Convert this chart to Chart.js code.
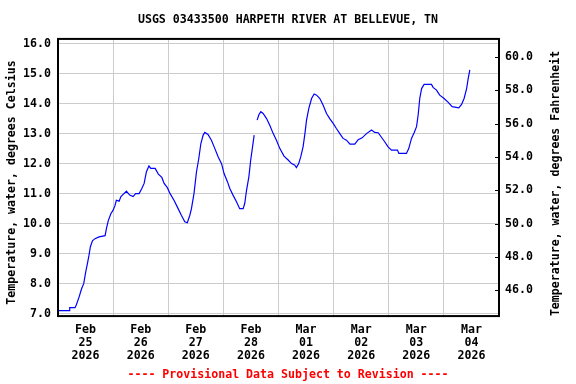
<!DOCTYPE html>
<html lang="en">
<head>
    <meta charset="UTF-8">
    <title>USGS 03433500 Harpeth River at Bellevue, TN</title>
    <script src="https://cdn.jsdelivr.net/npm/chart.js@4.4.1/dist/chart.umd.min.js"></script>
    <style>
        * {
            margin: 0;
            padding: 0;
            box-sizing: border-box;
        }

        body {
            background: #ffffff;
        }

        .chart-container {
            position: relative;
            width: 576px;
            height: 384px;
        }
    </style>
</head>
<body>
    <div class="chart-container">
        <canvas id="tempChart"></canvas>
    </div>

    <script>
        // hours since Feb 25 2026 00:00, and water temperature (deg C)
        const hours = [
            0, 4.8, 5.1, 7.4, 8.0, 9.2, 10.3, 11.2, 12.1, 12.8, 13.5, 14.1, 15.0, 16.1, 17.9,
            20.5, 21.1, 21.9, 23.0, 24.0, 24.8, 25.4, 26.6, 27.4, 28.7, 29.8, 31.2, 32.7, 33.8,
            35.3, 36.5, 37.5, 38.5, 39.6, 40.4, 42.3, 43.7, 45.2, 46.2, 47.6, 48.8, 50.5, 52.3,
            53.7, 55.2, 56.3, 57.4, 58.1, 59.2, 60.3, 61.3, 62.2, 63.2, 63.9, 65.3, 66.8, 68.3,
            69.7, 71.2, 72.3, 73.8, 74.8, 76.2, 77.7, 79.1, 80.6, 81.3, 82.1, 83.1, 83.9, 84.7,
            85.4, 86.0, 86.7, 87.4, 88.3, 89.3, 90.8, 92.2, 93.7, 95.1, 96.6, 98.4, 100.2, 101.7,
            103.1, 103.8, 104.8, 105.7, 106.7, 107.5, 108.2, 109.2, 110.4, 111.5, 112.6, 114.0,
            115.4, 116.9, 118.3, 119.8, 121.2, 122.7, 124.1, 125.6, 127.1, 129.2, 130.7, 132.4,
            134.3, 136.5, 137.9, 139.4, 140.9, 142.3, 143.7, 145.2, 147.8, 148.4, 151.7, 152.7,
            153.9, 155.1, 156.1, 156.8, 157.5, 158.3, 159.4, 162.6, 163.3, 164.8, 166.2, 168.1,
            169.9, 171.6, 174.5, 175.7, 176.8, 177.9, 178.6, 179.3
        ];
        const tempC = [
            7.1, 7.1, 7.2, 7.2, 7.3, 7.56, 7.84, 8.0, 8.4, 8.67, 8.95, 9.23, 9.43, 9.5, 9.56,
            9.6, 9.84, 10.1, 10.33, 10.45, 10.6, 10.78, 10.75, 10.9, 11.0, 11.08, 10.95, 10.9, 11.0,
            11.0, 11.17, 11.34, 11.73, 11.92, 11.84, 11.84, 11.65, 11.54, 11.34, 11.2, 11.0, 10.78, 10.5,
            10.28, 10.06, 10.03, 10.28, 10.5, 11.0, 11.73, 12.17, 12.67, 12.95, 13.04, 12.97, 12.78, 12.5,
            12.23, 12.0, 11.67, 11.39, 11.17, 10.95, 10.73, 10.5, 10.5, 10.67, 11.12, 11.56, 12.12, 12.56,
            12.95, null, 13.45, 13.62, 13.73, 13.67, 13.5, 13.28, 13.0, 12.78, 12.5, 12.25, 12.12, 12.0,
            11.95, 11.87, 12.0, 12.23, 12.56, 13.0, 13.45, 13.84, 14.17, 14.32, 14.28, 14.17,
            13.95, 13.67, 13.5, 13.34, 13.17, 13.0, 12.84, 12.78, 12.65, 12.65, 12.8, 12.86,
            13.0, 13.12, 13.04, 13.03, 12.87, 12.72, 12.56, 12.45, 12.45, 12.34, 12.34, 12.5,
            12.84, 13.04, 13.23, 13.62, 14.17, 14.5, 14.64, 14.64, 14.54, 14.45, 14.28, 14.17,
            14.04, 13.9, 13.86, 13.97, 14.17, 14.5, 14.84, 15.12
        ];

        // x axis day labels (placed at noon of each day)
        const monthLabels = ['Feb', 'Feb', 'Feb', 'Feb', 'Mar', 'Mar', 'Mar', 'Mar'];
        const dayLabels = ['25', '26', '27', '28', '01', '02', '03', '04'];
        const yearLabel = '2026';

        // axis ticks
        const celsiusTicks = [7, 8, 9, 10, 11, 12, 13, 14, 15, 16];
        const fahrenheitTicks = [46, 48, 50, 52, 54, 56, 58, 60];

        const cMin = 6.92;
        const cMax = 16.155;
        const toF = c => c * 9 / 5 + 32;

        const FONT = 'DejaVu Sans Mono';
        const labelFont = { family: FONT, size: 11.6, weight: 'bold' };

        // frame, inward tick marks and the two rotated axis titles
        const framePlugin = {
            id: 'frame',
            afterDraw(chart) {
                const { ctx, chartArea: a } = chart;
                const y2 = chart.scales.y2;
                ctx.save();
                ctx.strokeStyle = '#000000';
                ctx.lineWidth = 1;
                fahrenheitTicks.forEach(v => {
                    const py = Math.round(y2.getPixelForValue(v)) + 0.5;
                    ctx.beginPath();
                    ctx.moveTo(a.right - 4, py);
                    ctx.lineTo(a.right, py);
                    ctx.stroke();
                });
                ctx.lineWidth = 2;
                ctx.strokeRect(a.left, a.top, a.right - a.left, a.bottom - a.top);

                ctx.font = 'bold 11.6px "' + FONT + '"';
                ctx.fillStyle = '#000000';
                ctx.textAlign = 'center';
                ctx.textBaseline = 'middle';
                const axisTitle = (text, x, y) => {
                    ctx.save();
                    ctx.translate(x, y);
                    ctx.rotate(-Math.PI / 2);
                    ctx.fillText(text, 0, 0);
                    ctx.restore();
                };
                axisTitle('Temperature, water, degrees Celsius', 12, 182.5);
                axisTitle('Temperature, water, degrees Fahrenheit', 556, 183.5);
                ctx.restore();
            }
        };

        const ctx = document.getElementById('tempChart').getContext('2d');
        new Chart(ctx, {
            type: 'line',
            data: {
                datasets: [{
                    label: 'Temperature',
                    data: hours.map((h, i) => ({ x: h, y: tempC[i] })),
                    borderColor: '#0000ff',
                    borderWidth: 1.2,
                    pointRadius: 0,
                    tension: 0,
                    spanGaps: false,
                    yAxisID: 'y'
                }]
            },
            options: {
                responsive: true,
                maintainAspectRatio: false,
                animation: false,
                layout: { padding: 0 },
                plugins: {
                    legend: { display: false },
                    tooltip: { enabled: false },
                    title: {
                        display: true,
                        text: 'USGS 03433500 HARPETH RIVER AT BELLEVUE, TN',
                        color: '#000000',
                        font: labelFont,
                        padding: { top: 13, bottom: 12 }
                    },
                    subtitle: {
                        display: true,
                        position: 'bottom',
                        text: '---- Provisional Data Subject to Revision ----',
                        color: '#ff0000',
                        font: labelFont,
                        padding: { top: 0, bottom: 2 }
                    }
                },
                scales: {
                    x: {
                        type: 'linear',
                        min: 0,
                        max: 192,
                        afterFit: axis => { axis.height = 52; },
                        border: { display: false },
                        grid: {
                            drawTicks: false,
                            color: c => (c.tick && c.tick.value % 24 === 0) ? '#cccccc' : 'rgba(0,0,0,0)'
                        },
                        ticks: {
                            stepSize: 12,
                            autoSkip: false,
                            maxRotation: 0,
                            padding: 7,
                            color: '#000000',
                            font: { family: FONT, size: 11.6, weight: 'bold', lineHeight: 1.12 },
                            callback: v => {
                                if (v % 24 !== 12) return '';
                                const i = (v - 12) / 24;
                                return [monthLabels[i], dayLabels[i], yearLabel];
                            }
                        }
                    },
                    y: {
                        position: 'left',
                        min: cMin,
                        max: cMax,
                        afterFit: axis => { axis.width = 58; },
                        afterBuildTicks: axis => { axis.ticks = celsiusTicks.map(v => ({ value: v })); },
                        border: { display: false },
                        grid: { drawTicks: false, color: '#cccccc' },
                        ticks: {
                            padding: 7,
                            color: '#000000',
                            font: labelFont,
                            callback: v => v.toFixed(1)
                        }
                    },
                    y2: {
                        position: 'right',
                        min: toF(cMin),
                        max: toF(cMax),
                        afterFit: axis => { axis.width = 77; },
                        afterBuildTicks: axis => { axis.ticks = fahrenheitTicks.map(v => ({ value: v })); },
                        border: { display: false },
                        grid: { drawTicks: false, drawOnChartArea: false },
                        ticks: {
                            padding: 6,
                            color: '#000000',
                            font: labelFont,
                            callback: v => v.toFixed(1)
                        }
                    }
                }
            },
            plugins: [framePlugin]
        });
    </script>
</body>
</html>
